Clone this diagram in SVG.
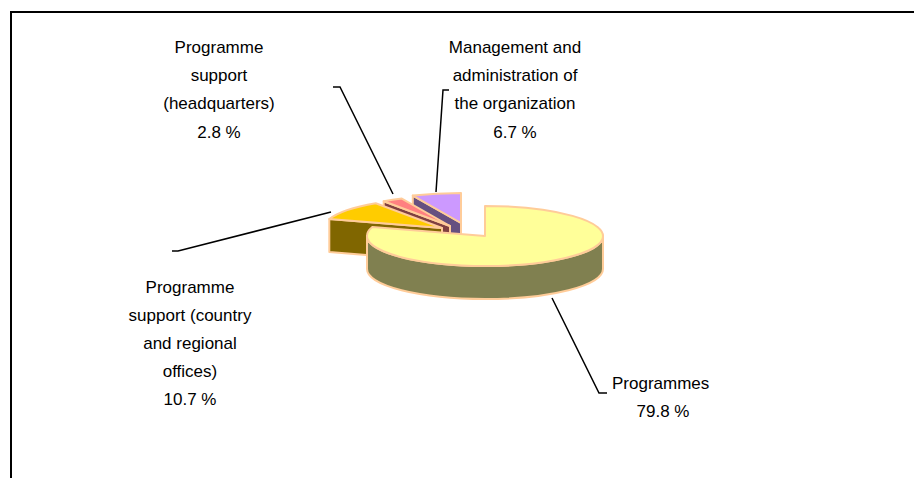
<svg xmlns="http://www.w3.org/2000/svg" width="914" height="478" viewBox="0 0 914 478">
<style>
text{font-family:"Liberation Sans",Arial,sans-serif;font-size:17px;fill:#000;text-anchor:middle}
.sl{stroke:#FFCC99;stroke-width:2;stroke-linejoin:round}
.ld{fill:none;stroke:#000;stroke-width:1.5}
</style>
<rect width="914" height="478" fill="#fff"/>
<path d="M11,478 L11,12 L914,12" fill="none" stroke="#000" stroke-width="2"/>
<g id="slice-management">
<path class="sl" fill="#665080" d="M461,223 L412.8,195.6 L412.8,228.6 L461,256 Z"/>
<path class="sl" fill="#CC99FF" d="M461,223 L412.8,195.6 A118,30 0 0,1 461,193 Z"/>
</g>
<g id="slice-hq">
<path class="sl" fill="#804040" d="M450,226 L383.7,201.2 L383.7,234.2 L450,259 Z"/>
<path class="sl" fill="#FF8080" d="M450,226 L383.7,201.2 A118,30 0 0,1 401.8,198.6 Z"/>
</g>
<g id="slice-country">
<path class="sl" fill="#806600" d="M442,228 L329.3,219.1 L329.3,252.1 L442,261 Z"/>
<path class="sl" fill="#FFCC00" d="M442,228 L329.3,219.1 A118,30 0 0,1 375.7,203.2 Z"/>
</g>
<g id="slice-programmes">
<path class="sl" fill="#808050" d="M603,236 A118,30 0 0,1 367,236 L367,269 A118,30 0 0,0 603,269 Z"/>
<path class="sl" fill="#FFFF99" d="M485,236 L485,206 A118,30 0 1,1 372.3,227.1 Z"/>
</g>
<g id="connectors">
<polyline class="ld" points="333,87 340,87 393,194"/>
<polyline class="ld" points="449,90 443,90 436,192"/>
<polyline class="ld" points="172,251 178,251 331,212"/>
<polyline class="ld" points="552,298 599,393 607,393"/>
</g>
<g id="label-hq">
<text x="219" y="53">Programme</text>
<text x="219" y="81">support</text>
<text x="219" y="109">(headquarters)</text>
<text x="219" y="138">2.8 %</text>
</g>
<g id="label-management">
<text x="515" y="53">Management and</text>
<text x="515" y="81">administration of</text>
<text x="515" y="109">the organization</text>
<text x="515" y="138">6.7 %</text>
</g>
<g id="label-country">
<text x="190" y="293">Programme</text>
<text x="190" y="321">support (country</text>
<text x="190" y="349">and regional</text>
<text x="190" y="377">offices)</text>
<text x="190" y="405">10.7 %</text>
</g>
<g id="label-programmes">
<text x="612" y="389" style="text-anchor:start">Programmes</text>
<text x="663" y="417">79.8 %</text>
</g>
</svg>
